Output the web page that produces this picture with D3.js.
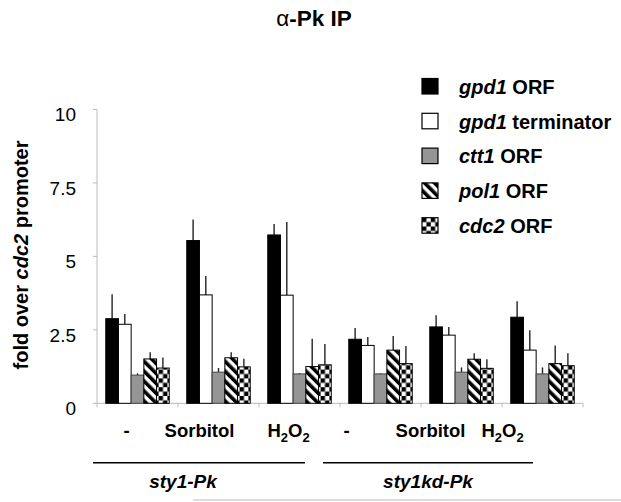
<!DOCTYPE html>
<html>
<head>
<meta charset="utf-8">
<script src="https://d3js.org/d3.v7.min.js"></script>
<style>
	body { margin: 0; background: #fff; }
	text { font-family: Arial, "Liberation Sans", sans-serif; fill: #000; }
	.tick-label { font-size: 19px; }
	.cat-label { font-size: 18.5px; font-weight: bold; }
	.legend-text { font-size: 20px; font-weight: bold; }
</style>
</head>
<body>
<div id="chart"></div>
<script>

//////////////////////// Data ////////////////////////

var conditions = ["sty1-Pk -", "sty1-Pk Sorbitol", "sty1-Pk H2O2", "sty1kd-Pk -", "sty1kd-Pk Sorbitol", "sty1kd-Pk H2O2"];
var series = ["gpd1 ORF", "gpd1 terminator", "ctt1 ORF", "pol1 ORF", "cdc2 ORF"];

//mean fold enrichment per series, one value per condition
var gpd1Orf  = [2.88, 5.54, 5.73, 2.18, 2.60, 2.93];
var gpd1Term = [2.69, 3.69, 3.68, 1.97, 2.32, 1.81];
var ctt1Orf  = [0.96, 1.06, 1.00, 1.00, 1.06, 1.00];
var pol1Orf  = [1.51, 1.55, 1.25, 1.81, 1.50, 1.35];
var cdc2Orf  = [1.20, 1.24, 1.31, 1.35, 1.19, 1.28];

//upper error (standard deviation)
var gpd1OrfErr  = [0.83, 0.72, 0.37, 0.38, 0.40, 0.54];
var gpd1TermErr = [0.35, 0.64, 2.49, 0.29, 0.28, 0.68];
var ctt1OrfErr  = [0.06, 0.14, 0.03, 0.02, 0.16, 0.22];
var pol1OrfErr  = [0.23, 0.19, 0.95, 0.48, 0.20, 0.62];
var cdc2OrfErr  = [0.36, 0.28, 0.71, 0.60, 0.31, 0.42];

var yTicks = [0, 2.5, 5, 7.5, 10];
var catLabels = ["-", "Sorbitol", "H2O2", "-", "Sorbitol", "H2O2"];
var strains = ["sty1-Pk", "sty1kd-Pk"];

var values = [gpd1Orf, gpd1Term, ctt1Orf, pol1Orf, cdc2Orf],
	errors = [gpd1OrfErr, gpd1TermErr, ctt1OrfErr, pol1OrfErr, cdc2OrfErr];

//////////////////////// Layout ////////////////////////

var width = 621,
	height = 502;

//label offsets from the group centre, as placed in the original figure
var catLabelShift = [-11, -19, -11, -34, -31, -40];

var svg = d3.select("#chart").append("svg")
	.attr("width", width)
	.attr("height", height);

var x = d3.scaleBand()
	.domain(conditions)
	.range([97, 583]);

var xSub = d3.scaleBand()
	.domain(series)
	.range([0, x.bandwidth()])
	.paddingOuter(0.69);

var y = d3.scaleLinear()
	.domain([0, 10])
	.range([403.3, 109.5]);

//////////////////////// Patterns ////////////////////////

var defs = svg.append("defs");

var hatch = defs.append("pattern")
	.attr("id", "hatch")
	.attr("patternUnits", "userSpaceOnUse")
	.attr("width", 7)
	.attr("height", 7)
	.attr("patternTransform", "rotate(-45)");
hatch.append("rect").attr("width", 7).attr("height", 7).style("fill", "#fff");
hatch.append("rect").attr("width", 3.6).attr("height", 7).style("fill", "#000");

var checker = defs.append("pattern")
	.attr("id", "checker")
	.attr("patternUnits", "userSpaceOnUse")
	.attr("width", 8.8)
	.attr("height", 8.8);
checker.append("rect").attr("width", 8.8).attr("height", 8.8).style("fill", "#fff");
checker.append("rect").attr("width", 4.4).attr("height", 4.4).style("fill", "#000");
checker.append("rect").attr("x", 4.4).attr("y", 4.4).attr("width", 4.4).attr("height", 4.4).style("fill", "#000");

var fills = ["#000", "#fff", "#959595", "url(#hatch)", "url(#checker)"];

//////////////////////// Title ////////////////////////

var title = svg.append("text")
	.attr("x", 314)
	.attr("y", 26)
	.style("text-anchor", "middle")
	.style("font-size", "22.5px")
	.style("font-weight", "bold");
title.append("tspan").style("font-weight", "normal").text("α");
title.append("tspan").text("-Pk IP");

//////////////////////// Axes ////////////////////////

//y axis line
svg.append("line")
	.attr("x1", 97).attr("x2", 97)
	.attr("y1", y(10)).attr("y2", y(0))
	.style("stroke", "#bbb")
	.style("stroke-width", 1);

var yTick = svg.selectAll(".y-tick")
	.data(yTicks)
	.enter().append("g")
	.attr("class", "y-tick")
	.attr("transform", function(d) { return "translate(97," + y(d) + ")"; });
yTick.append("line")
	.attr("x1", -4).attr("x2", 0)
	.style("stroke", "#bbb");
yTick.append("text")
	.attr("class", "tick-label")
	.attr("x", -21)
	.attr("dy", "0.62em")
	.style("text-anchor", "end")
	.text(function(d) { return d; });

//y axis title
svg.append("text")
	.attr("transform", "translate(28," + 255 + ")rotate(-90)")
	.style("text-anchor", "middle")
	.style("font-size", "20px")
	.style("font-weight", "bold")
	.call(function(t) {
		t.append("tspan").text("fold over ");
		t.append("tspan").style("font-style", "italic").text("cdc2");
		t.append("tspan").text(" promoter");
	});

//x axis line and ticks at group boundaries
svg.append("line")
	.attr("x1", 97).attr("x2", 583)
	.attr("y1", y(0)).attr("y2", y(0))
	.style("stroke", "#bbb");

svg.selectAll(".x-tick")
	.data(conditions.concat(["end"]))
	.enter().append("line")
	.attr("class", "x-tick")
	.attr("x1", function(d, i) { return i < conditions.length ? x(d) : x.range()[1]; })
	.attr("x2", function(d, i) { return i < conditions.length ? x(d) : x.range()[1]; })
	.attr("y1", y(0))
	.attr("y2", y(0) + 4)
	.style("stroke", "#bbb");

//////////////////////// Bars ////////////////////////

var group = svg.selectAll(".group")
	.data(conditions)
	.enter().append("g")
	.attr("class", "group")
	.attr("transform", function(d) { return "translate(" + x(d) + ",0)"; });

series.forEach(function(s, si) {
	//error line (upper only)
	group.append("line")
		.attr("class", "error-line")
		.attr("x1", function(d, i) { return xSub(s) + xSub.bandwidth() / 2; })
		.attr("x2", function(d, i) { return xSub(s) + xSub.bandwidth() / 2; })
		.attr("y1", function(d, i) { return y(values[si][i]); })
		.attr("y2", function(d, i) { return y(values[si][i] + errors[si][i]); })
		.style("stroke", "#222")
		.style("stroke-width", 1.4);

	group.append("rect")
		.attr("class", "bar")
		.attr("x", xSub(s))
		.attr("width", xSub.bandwidth())
		.attr("y", function(d, i) { return y(values[si][i]); })
		.attr("height", function(d, i) { return y(0) - y(values[si][i]); })
		.style("fill", fills[si])
		.style("stroke", si === 2 ? "#444" : "#000")
		.style("stroke-width", 1);
});

//////////////////////// Category labels ////////////////////////

svg.selectAll(".cat-label")
	.data(catLabels)
	.enter().append("text")
	.attr("class", "cat-label")
	.attr("x", function(d, i) { return x(conditions[i]) + x.bandwidth() / 2 + catLabelShift[i]; })
	.attr("y", 437)
	.style("text-anchor", "middle")
	.each(function(d) {
		var t = d3.select(this);
		if (d === "H2O2") {
			t.append("tspan").text("H");
			t.append("tspan").attr("dy", 5).style("font-size", "13px").text("2");
			t.append("tspan").attr("dy", -5).text("O");
			t.append("tspan").attr("dy", 5).style("font-size", "13px").text("2");
		} else {
			t.text(d);
		}
	});

//strain underlines and names
var strainLines = [[93, 305], [323, 533]];

svg.selectAll(".strain-line")
	.data(strains)
	.enter().append("line")
	.attr("class", "strain-line")
	.attr("x1", function(d, i) { return strainLines[i][0]; })
	.attr("x2", function(d, i) { return strainLines[i][1]; })
	.attr("y1", 462.7)
	.attr("y2", 462.7)
	.style("stroke", "#000")
	.style("stroke-width", 1.6);

svg.selectAll(".strain-label")
	.data(strains)
	.enter().append("text")
	.attr("class", "cat-label strain-label")
	.attr("x", function(d, i) { return i === 0 ? 183 : 428; })
	.attr("y", 488)
	.style("text-anchor", "middle")
	.style("font-style", "italic")
	.style("font-size", "19px")
	.text(function(d) { return d; });

//faint rule at the bottom
svg.append("line")
	.attr("x1", 193).attr("x2", 621)
	.attr("y1", 500).attr("y2", 500)
	.style("stroke", "#bbb");

//////////////////////// Legend ////////////////////////

var legendNames = [["gpd1", " ORF"], ["gpd1", " terminator"], ["ctt1", " ORF"], ["pol1", " ORF"], ["cdc2", " ORF"]];

var legend = svg.selectAll(".legend-group")
	.data(series)
	.enter().append("g")
	.attr("class", "legend-group")
	.attr("transform", function(d, i) { return "translate(422," + (78.5 + i * 34.8) + ")"; });

legend.append("rect")
	.attr("width", 16)
	.attr("height", 15.5)
	.style("fill", function(d, i) { return fills[i]; })
	.style("stroke", "#000")
	.style("stroke-width", 1.2);

legend.append("text")
	.attr("class", "legend-text")
	.attr("x", 37)
	.attr("y", 8)
	.attr("dy", "0.36em")
	.each(function(d, i) {
		var t = d3.select(this);
		t.append("tspan").style("font-style", "italic").text(legendNames[i][0]);
		t.append("tspan").text(legendNames[i][1]);
	});

</script>
</body>
</html>
